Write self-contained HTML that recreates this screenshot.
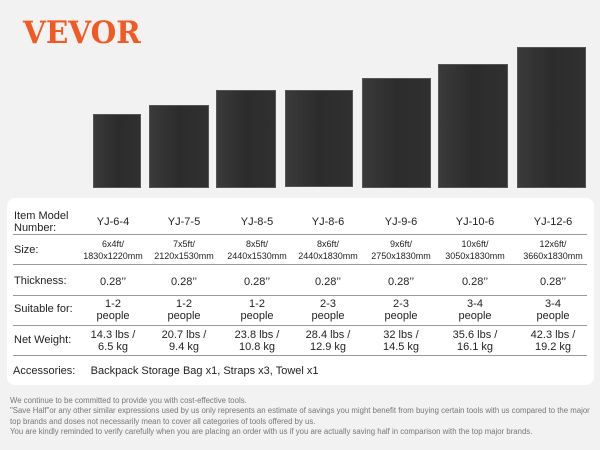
<!DOCTYPE html>
<html><head><meta charset="utf-8"><style>
body{margin:0;width:600px;height:450px;background:#f2f2f2;position:relative;overflow:hidden;font-family:"Liberation Sans",Arial,sans-serif;}
.r{position:absolute;background:linear-gradient(90deg,#3a3a3a,#2c2c2c 50%,#303030);border:1px solid #555;box-sizing:border-box}
.panel{position:absolute;left:7px;top:198px;width:587px;height:187px;background:#fff;border-radius:8px}
.ln{position:absolute;left:13px;width:574px;height:1px;background:#999}
.c{position:absolute;width:90px;margin-left:-45px;text-align:center;color:#222;line-height:12px}
.l{position:absolute;left:14px;color:#222;font-size:11px;line-height:12px}
.s{font-size:9px;line-height:12px}
.f{position:absolute;left:10px;font-size:7.8px;color:#777;line-height:10.3px;top:396px;white-space:nowrap}
</style></head><body>
<div style="position:absolute;left:23px;top:15px;font-family:'DejaVu Serif','Liberation Serif',serif;font-weight:bold;font-size:31px;line-height:36px;color:#f15a22;transform:scaleX(0.95);transform-origin:left">VEVOR</div>
<div class="r" style="left:93px;top:114px;width:48px;height:74px"></div>
<div class="r" style="left:149px;top:105px;width:60px;height:83px"></div>
<div class="r" style="left:216px;top:90px;width:60px;height:98px"></div>
<div class="r" style="left:285px;top:90px;width:68px;height:97px"></div>
<div class="r" style="left:362px;top:78px;width:69px;height:110px"></div>
<div class="r" style="left:438px;top:64px;width:70px;height:124px"></div>
<div class="r" style="left:517px;top:47px;width:69px;height:141px"></div>
<div class="panel"></div>
<div class="ln" style="top:234px"></div><div class="ln" style="top:264px"></div><div class="ln" style="top:295px"></div><div class="ln" style="top:325px"></div><div class="ln" style="top:355px"></div>
<div class="l" style="top:210px">Item Model<br>Number:</div>
<div class="l" style="top:244px">Size:</div>
<div class="l" style="top:275px">Thickness:</div>
<div class="l" style="top:303px">Suitable for:</div>
<div class="l" style="top:334px">Net Weight:</div>
<div class="l" style="top:365px;left:13px">Accessories:&nbsp;&nbsp;&nbsp;&nbsp; Backpack Storage Bag x1, Straps x3, Towel x1</div>

<div class="c" style="left:113px;top:216px;font-size:11px">YJ-6-4</div>
<div class="c" style="left:184px;top:216px;font-size:11px">YJ-7-5</div>
<div class="c" style="left:257px;top:216px;font-size:11px">YJ-8-5</div>
<div class="c" style="left:328px;top:216px;font-size:11px">YJ-8-6</div>
<div class="c" style="left:401px;top:216px;font-size:11px">YJ-9-6</div>
<div class="c" style="left:475px;top:216px;font-size:11px">YJ-10-6</div>
<div class="c" style="left:553px;top:216px;font-size:11px">YJ-12-6</div>

<div class="c s" style="left:113px;top:238px">6x4ft/<br>1830x1220mm</div>
<div class="c s" style="left:184px;top:238px">7x5ft/<br>2120x1530mm</div>
<div class="c s" style="left:257px;top:238px">8x5ft/<br>2440x1530mm</div>
<div class="c s" style="left:328px;top:238px">8x6ft/<br>2440x1830mm</div>
<div class="c s" style="left:401px;top:238px">9x6ft/<br>2750x1830mm</div>
<div class="c s" style="left:475px;top:238px">10x6ft/<br>3050x1830mm</div>
<div class="c s" style="left:553px;top:238px">12x6ft/<br>3660x1830mm</div>

<div class="c" style="left:113px;top:276px;font-size:11px">0.28’’</div>
<div class="c" style="left:184px;top:276px;font-size:11px">0.28’’</div>
<div class="c" style="left:257px;top:276px;font-size:11px">0.28’’</div>
<div class="c" style="left:328px;top:276px;font-size:11px">0.28’’</div>
<div class="c" style="left:401px;top:276px;font-size:11px">0.28’’</div>
<div class="c" style="left:475px;top:276px;font-size:11px">0.28’’</div>
<div class="c" style="left:553px;top:276px;font-size:11px">0.28’’</div>

<div class="c" style="left:113px;top:298px;font-size:11px">1-2<br>people</div>
<div class="c" style="left:184px;top:298px;font-size:11px">1-2<br>people</div>
<div class="c" style="left:257px;top:298px;font-size:11px">1-2<br>people</div>
<div class="c" style="left:328px;top:298px;font-size:11px">2-3<br>people</div>
<div class="c" style="left:401px;top:298px;font-size:11px">2-3<br>people</div>
<div class="c" style="left:475px;top:298px;font-size:11px">3-4<br>people</div>
<div class="c" style="left:553px;top:298px;font-size:11px">3-4<br>people</div>

<div class="c" style="left:113px;top:329px;font-size:11px">14.3 lbs /<br>6.5 kg</div>
<div class="c" style="left:184px;top:329px;font-size:11px">20.7 lbs /<br>9.4 kg</div>
<div class="c" style="left:257px;top:329px;font-size:11px">23.8 lbs /<br>10.8 kg</div>
<div class="c" style="left:328px;top:329px;font-size:11px">28.4 lbs /<br>12.9 kg</div>
<div class="c" style="left:401px;top:329px;font-size:11px">32 lbs /<br>14.5 kg</div>
<div class="c" style="left:475px;top:329px;font-size:11px">35.6 lbs /<br>16.1 kg</div>
<div class="c" style="left:553px;top:329px;font-size:11px">42.3 lbs /<br>19.2 kg</div>

<div class="f">We continue to be committed to provide you with cost-effective tools.<br>"Save Half"or any other similar expressions used by us only represents an estimate of savings you might benefit from buying certain tools with us compared to the major<br>top brands and doses not necessarily mean to cover all categories of tools offered by us.<br>You are kindly reminded to verify carefully when you are placing an order with us if you are actually saving half in comparison with the top major brands.</div>
</body></html>
